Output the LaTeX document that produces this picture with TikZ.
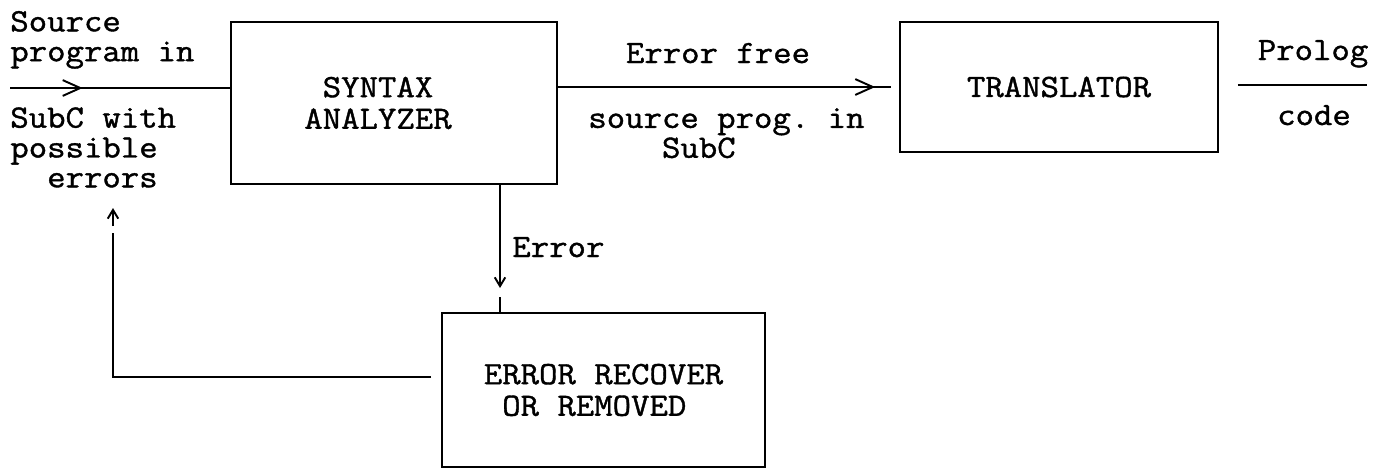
\documentclass[tikz,border=0pt]{standalone}
\usepackage{fontspec}
\setmonofont{Latin Modern Mono}[FakeStretch=1.1,FakeBold=1.2]
\usetikzlibrary{arrows.meta,positioning,decorations.markings}

\begin{document}
\begin{tikzpicture}[
        x=0.02cm, y=-0.02cm,
        block/.style={
            draw,
            line width=1.1pt,
            align=center,
            inner sep=0pt,
            font=\fontsize{18.5pt}{18pt}\selectfont\ttfamily
        },
        lbl/.style={
            align=left,
            inner sep=0pt,
            font=\fontsize{18.5pt}{17pt}\selectfont\ttfamily
        },
        link/.style={
            line width=1.1pt
        },
        chev/.style={
            postaction={decorate},
            decoration={markings,
                mark=at position #1 with {\arrow{Straight Barb[length=10pt,width=9pt,line width=1.1pt]}}}
        },
        tip/.style={
            -{Straight Barb[length=5pt,width=6pt,line width=1.1pt]}
        }
    ]

        \useasboundingbox (0,0) rectangle (1382,471);

        \node[block, minimum width=6.52cm, minimum height=3.24cm] (syntax) at (394,103)
            {SYNTAX\hspace*{0.64cm}\\ANALYZER\hspace*{0.64cm}};

        \node[block, minimum width=6.36cm, minimum height=2.6cm] (trans) at (1059,87)
            {TRANSLATOR};

        \node[block, align=left, minimum width=6.46cm, minimum height=3.08cm] (recover) at (603.5,390)
            {ERROR RECOVER\\~OR REMOVED};

        \coordinate (src) at (10,88);
        \coordinate (prog) at (1367,85);
        \coordinate (errx) at (500,288);
        \coordinate (errgap) at (500,297);
        \coordinate (fbk) at (113,377);
        \coordinate (fbtop) at (113,233);
        \coordinate (upbase) at (113,226);
        \coordinate (uptip) at (113,208);

        \node[lbl, anchor=south west] (srcup) at (10,69)
            {Source\\program in};
        \node[lbl, anchor=north west] (srclow) at (10,107)
            {SubC with\\possible\\~~errors};

        \node[lbl, anchor=base] (free) at (718,63)
            {Error free};
        \node[lbl, anchor=north west] (freelow) at (588,108)
            {source prog. in\\~~~~SubC};

        \node[lbl, anchor=base west] (errlbl) at (512,257)
            {Error};

        \node[lbl, anchor=base] (prolog) at (1313,60)
            {Prolog};
        \node[lbl, anchor=base] (code) at (1314,125)
            {code};

        \draw[link, chev=0.33] (src) -- (src -| syntax.west);
        \draw[link, chev=0.93, shorten >=0.16cm] (trans.west -| syntax.east) -- (trans.west);
        \draw[link, shorten <=0.38cm] (trans.east |- prog) -- (prog);

        \draw[link, tip] (syntax.south -| errx) -- (errx);
        \draw[link] (errgap) -- (errgap |- recover.north);

        \draw[link, shorten <=0.2cm] (recover.west |- fbk) -- (fbk) -- (fbtop);
        \draw[link, tip] (upbase) -- (uptip);

    \end{tikzpicture}
\end{document}
